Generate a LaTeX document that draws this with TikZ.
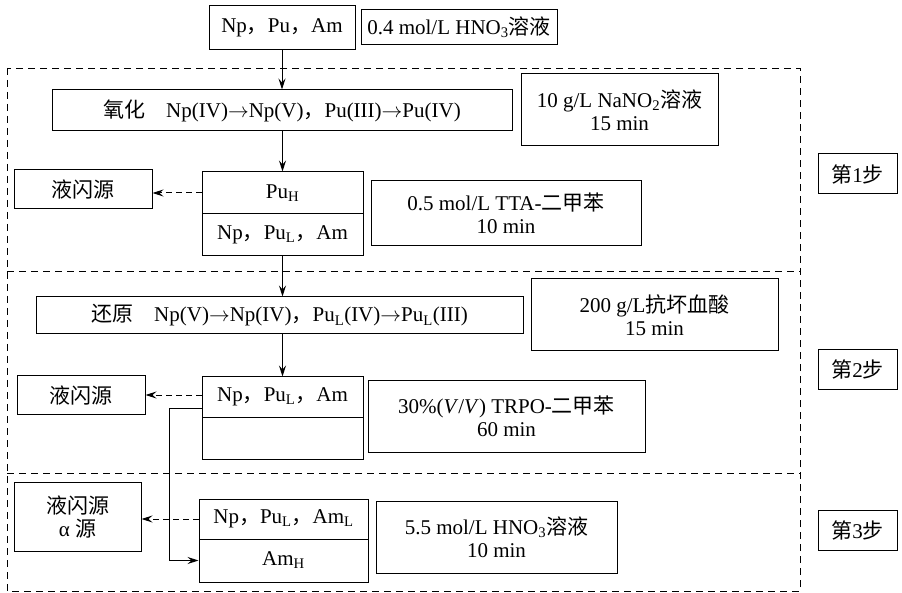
\documentclass[tikz,border=0pt]{standalone}
\usepackage{fontspec}
\setmainfont{Liberation Serif}
\newfontfamily\cjk{Noto Sans CJK SC}
\usetikzlibrary{arrows.meta}
\newcommand{\zh}[1]{{\cjk #1}}
\newcommand{\cm}{\zh{，}}
\newcommand{\ra}{$\rightarrow$}
\tikzset{
  box/.style={draw, line width=1pt, inner sep=0pt, align=center,
    font=\fontsize{21}{23}\selectfont},
  arr/.style={line width=1pt, -{Stealth[length=11pt,width=7pt,inset=4pt]}},
  darr/.style={arr, dash pattern=on 6pt off 4pt},
  frame/.style={line width=0.9pt, dash pattern=on 7pt off 5pt}
}
\begin{document}
\begin{tikzpicture}[x=1pt,y=-1pt]
\useasboundingbox (0,0) rectangle (902,593);

% stage frame and dividers
\draw[frame] (7,68) rectangle (800,591);
\draw[frame] (7,271) -- (800,271);
\draw[frame] (7,473) -- (800,473);

% feed
\node[box, minimum width=146pt, minimum height=44pt] (top) at (282,28) {Np\cm Pu\cm Am};
\node[box, minimum width=196pt, minimum height=35pt] (hno3) at (459,27.5) {0.4 mol/L HNO\textsubscript{3}\zh{溶液}};

% step 1
\node[box, minimum width=460pt, minimum height=41pt] (ox) at (282,110.5) {\zh{氧化}\quad Np(IV)\ra Np(V)\cm Pu(III)\ra Pu(IV)};
\node[box, minimum width=197pt, minimum height=72pt] (nano2) at (619.5,110) {10 g/L NaNO\textsubscript{2}\zh{溶液}\\15 min};
\node[box, minimum width=161pt, minimum height=42pt] (puH) at (282.5,193) {Pu\textsubscript{H}};
\node[box, minimum width=161pt, minimum height=42pt] (npA1) at (282.5,235) {Np\cm Pu\textsubscript{L}\cm Am};
\node[box, minimum width=138pt, minimum height=39pt] (lsy1) at (83,189.5) {\zh{液闪源}};
\node[box, minimum width=270pt, minimum height=65pt] (tta) at (506,213.5) {0.5 mol/L TTA-\zh{二甲苯}\\10 min};
\node[box, minimum width=79pt, minimum height=40pt] (step1) at (857.5,174) {\zh{第}1\zh{步}};

% step 2
\node[box, minimum width=487pt, minimum height=37pt] (red) at (279.5,315.5) {\zh{还原}\quad Np(V)\ra Np(IV)\cm Pu\textsubscript{L}(IV)\ra Pu\textsubscript{L}(III)};
\node[box, minimum width=247pt, minimum height=72pt] (vc) at (654.5,315) {200 g/L\zh{抗坏血酸}\\15 min};
\node[box, minimum width=161pt, minimum height=40pt] (np2) at (282.5,397) {Np\cm Pu\textsubscript{L}\cm Am};
\node[box, minimum width=161pt, minimum height=42pt] (empty2) at (282.5,438) {};
\node[box, minimum width=128pt, minimum height=38pt] (lsy2) at (81,395) {\zh{液闪源}};
\node[box, minimum width=277pt, minimum height=71pt] (trpo) at (506.5,416.5) {30\%(\textit{V}/\textit{V}) TRPO-\zh{二甲苯}\\60 min};
\node[box, minimum width=79pt, minimum height=39pt] (step2) at (857.5,369.5) {\zh{第}2\zh{步}};

% step 3
\node[box, minimum width=169pt, minimum height=40pt] (np3) at (283.5,519) {Np\cm Pu\textsubscript{L}\cm Am\textsubscript{L}};
\node[box, minimum width=169pt, minimum height=43pt] (amH) at (283.5,560.5) {Am\textsubscript{H}};
\node[box, minimum width=127pt, minimum height=69pt] (alpha) at (77.5,516.5) {\zh{液闪源}\\α \zh{源}};
\node[box, minimum width=241pt, minimum height=72pt] (hno3b) at (496.5,537) {5.5 mol/L HNO\textsubscript{3}\zh{溶液}\\10 min};
\node[box, minimum width=79pt, minimum height=40pt] (step3) at (857.5,530) {\zh{第}3\zh{步}};

% main flow
\draw[arr] (top.south) -- (top.south |- ox.north);
\draw[arr] (ox.south) -- (ox.south -| puH.north) -- (puH.north);
\draw[arr] (npA1.south) -- (npA1.south |- red.north);
\draw[arr] (npA1.south |- red.south) -- (np2.north);

% side streams
\draw[darr] (puH.west) -- (puH.west -| lsy1.east);
\draw[darr] (lsy2.east -| np2.west) -- (lsy2.east);
\draw[darr] (np3.west) -- (np3.west -| alpha.east);
\coordinate (aq2) at ([yshift=9pt]np2.south west);
\draw[arr] (aq2) -- ++(-32,0) |- (amH.west);
\end{tikzpicture}
\end{document}
